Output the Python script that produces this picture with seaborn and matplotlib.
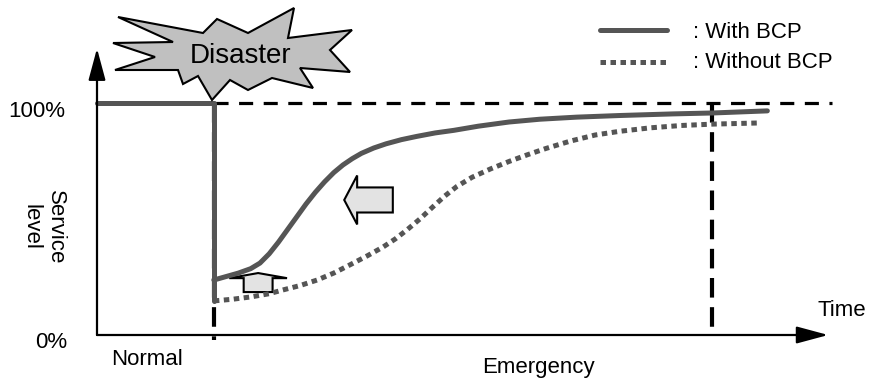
import matplotlib
matplotlib.use('Agg')
import matplotlib.pyplot as plt
import matplotlib.patches as mpatches
from matplotlib.lines import Line2D
import pandas as pd
import seaborn as sns

# key moments on the time axis and the full service level
t_disaster = 19
t_target = 100
full_level = 100

# service level before the disaster and the drop
normal_t = [0, 19, 19]
normal_lv = [100, 100, 14.7]

# recovery with a business continuity plan
with_t = [19, 21, 23, 25, 26.5, 28, 29.5, 31, 32.5, 34, 35.5, 37, 38.5, 40, 41.5, 43, 45,
          47, 49.5, 52, 55, 58, 62, 67, 72, 78, 85, 93.7, 100.2, 109]
with_lv = [23.7, 25.2, 26.7, 28.6, 31, 35, 40, 45.5, 51, 56.5, 61.5, 66, 70, 73.3, 76,
           78.3, 80.6, 82.4, 84.2, 85.6, 87.1, 88.2, 90.0, 91.8, 93.0, 93.9, 94.6, 95.3,
           95.7, 96.6]

# recovery without a plan
without_t = [19, 22, 25, 28, 30.2, 33, 35.8, 38.5, 41.1, 44, 46.5, 48.5, 50.4, 52.5, 54.6,
             56.5, 58.5, 61, 64, 67, 70, 73, 77, 81, 85, 90, 95, 100.2, 107.8]
without_lv = [14.7, 15.4, 16.4, 17.8, 19.4, 21.3, 23.7, 26.7, 30.2, 34.2, 37.9, 41.4, 45.3,
              50, 55.2, 59.8, 64, 68, 71.6, 74.8, 77.7, 80.4, 83.6, 86.2, 87.8, 89.3, 90.3,
              90.9, 91.4]

legend_labels = [': With BCP', ': Without BCP']

sns.set_theme(style='white')
plt.rcParams['font.family'] = ['Liberation Sans', 'DejaVu Sans']
plt.rcParams['text.color'] = 'black'

W, H = 874, 381
gray = '#555555'
dots = (0, (1.1, 0.9))

fig = plt.figure(figsize=(W / 100, H / 100), dpi=100)
ax = fig.add_axes([97 / W, 46 / H, 738 / W, 287.7 / H])
ax.set_xlim(0, 120)
ax.set_ylim(0, 124)
ax.axis('off')

# reference dashed lines
ax.plot([t_disaster, t_disaster], [full_level, -2.2], color='black', lw=3,
        linestyle=(0, (4.7, 2.3)), clip_on=False)
ax.plot([t_target, t_target], [full_level, 0], color='black', lw=3,
        linestyle=(0, (4.7, 2.3)), clip_on=False)
ax.plot([t_disaster, 119.5], [full_level, full_level], color='black', lw=2.3,
        linestyle=(0, (4.4, 3.3)), clip_on=False)

df_normal = pd.DataFrame({'t': normal_t, 'level': normal_lv})
df_with = pd.DataFrame({'t': with_t, 'level': with_lv})
df_without = pd.DataFrame({'t': without_t, 'level': without_lv})

sns.lineplot(data=df_without, x='t', y='level', ax=ax, sort=False, estimator=None,
             color=gray, lw=3.6, linestyle=dots, clip_on=False)
sns.lineplot(data=df_normal, x='t', y='level', ax=ax, sort=False, estimator=None,
             color=gray, lw=3.6, clip_on=False)
sns.lineplot(data=df_with, x='t', y='level', ax=ax, sort=False, estimator=None,
             color=gray, lw=3.6, solid_joinstyle='round', clip_on=False)

# axes with arrow heads
arrow_kw = dict(arrowstyle='-|>,head_length=1.3,head_width=0.35', mutation_scale=15,
                lw=1.6, color='black', shrinkA=0, shrinkB=0)
ax.annotate('', xy=(0, 123.5), xytext=(0, 0), arrowprops=arrow_kw, annotation_clip=False)
ax.annotate('', xy=(118.9, 0), xytext=(0, 0), arrowprops=arrow_kw, annotation_clip=False)

# block arrows between the curves
ax.add_patch(mpatches.FancyArrow(48.1, 58.2, -7.9, 0, width=10.8, head_width=21.1,
                                 head_length=2.1, length_includes_head=True,
                                 facecolor='#e3e3e3', edgecolor='black', lw=1.5))
ax.add_patch(mpatches.FancyArrow(26.2, 18.5, 0, 8.2, width=4.7, head_width=9.4,
                                 head_length=2.2, length_includes_head=True,
                                 facecolor='#e3e3e3', edgecolor='black', lw=1.5))

fs = 16
ax.text(-5.2, 94.0, '100%', ha='right', va='baseline', fontsize=fs)
ax.text(-4.9, -5.6, '0%', ha='right', va='baseline', fontsize=fs)
ax.text(-8.8, 62.5, 'Service\nlevel', ha='center', va='top', rotation=270, fontsize=fs)
ax.text(8.1, -12.9, 'Normal', ha='center', va='baseline', fontsize=fs)
ax.text(71.7, -16.4, 'Emergency', ha='center', va='baseline', fontsize=fs)
ax.text(117.2, 8.2, 'Time', ha='left', va='baseline', fontsize=fs)

# the "Disaster" burst
star_px = [(118, 17), (203, 33), (217, 19), (248, 33), (294, 8), (288, 38), (352, 30),
           (330, 50), (350, 72), (300, 68), (313, 88), (272, 78), (248, 90), (230, 80),
           (212, 100), (198, 76), (183, 84), (178, 70), (115, 70), (155, 57), (113, 43),
           (173, 42)]
star = mpatches.Polygon([(x / W, 1 - y / H) for x, y in star_px], closed=True,
                        facecolor='#c0c0c0', edgecolor='black', lw=1.5,
                        transform=fig.transFigure)
fig.add_artist(star)
fig.text(241 / W, 1 - 63 / H, 'Disaster', ha='center', va='baseline', fontsize=20)

# legend
fig.add_artist(Line2D([600 / W, 667 / W], [1 - 30 / H, 1 - 30 / H], color=gray, lw=3.6,
                      transform=fig.transFigure))
fig.add_artist(Line2D([600 / W, 668 / W], [1 - 62 / H, 1 - 62 / H], color=gray, lw=3.6,
                      linestyle=dots, transform=fig.transFigure))
fig.text(693 / W, 1 - 38 / H, legend_labels[0], ha='left', va='baseline', fontsize=fs)
fig.text(693 / W, 1 - 68 / H, legend_labels[1], ha='left', va='baseline', fontsize=fs)

fig.savefig('out.png', dpi=100)
